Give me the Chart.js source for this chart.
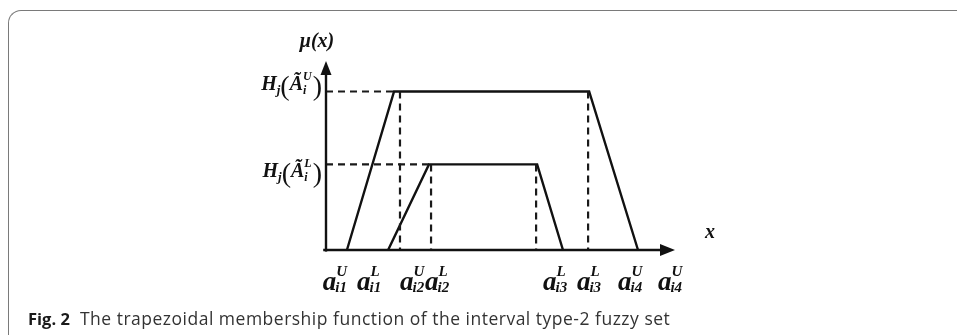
<!DOCTYPE html>
<html>
<head>
<meta charset="utf-8">
<script src="https://cdn.jsdelivr.net/npm/chart.js@4/dist/chart.umd.min.js"></script>
<style>
  html, body { margin: 0; padding: 0; background: #fff; }
  #wrap { position: relative; width: 957px; height: 335px; overflow: hidden; }
  #frame { position: absolute; left: 8px; top: 10px; width: 1000px; height: 400px;
           border-top: 1.5px solid #7a7a7a; border-left: 1.5px solid #7a7a7a;
           border-top-left-radius: 13px; box-sizing: border-box; }
  #chart { position: absolute; left: 0; top: 0; }
  #caption { position: absolute; left: 28px; top: 306px; font-family: "Open Sans", sans-serif;
             font-size: 17.5px; color: #333; white-space: pre; letter-spacing: 0.5px; }
  #caption b { color: #1a1a1a; letter-spacing: 0; font-size: 16.5px; }
</style>
</head>
<body>
<div id="wrap">
  <div id="frame"></div>
  <canvas id="chart" width="957" height="335"></canvas>
  <div id="caption"><b>Fig. 2</b>  The trapezoidal membership function of the interval type-2 fuzzy set</div>
</div>
<script>
// ---- data (x in arbitrary units 0..10, membership grade 0..1) ----
const upperX = [0.60, 1.95, 7.54, 8.94];
const upperY = [0, 1, 1, 0];
const lowerX = [1.78, 2.95, 6.05, 6.79];
const lowerY = [0, 0.54, 0.54, 0];
const upperHeight = 1;
const lowerHeight = 0.54;
const guideX = [2.12, 3.01, 6.02, 7.51];          // dashed vertical guides
const guideTop = [1, 0.54, 0.54, 1];
const xMax = 10;
const yMax = 1.1924;

// tick labels on the x axis
const xLabelSup = ['U', 'L', 'U', 'L', 'L', 'L', 'U', 'U'];
const xLabelSub = ['i1', 'i1', 'i2', 'i2', 'i3', 'i3', 'i4', 'i4'];
const xLabelAt  = [-0.09, 0.89, 2.12, 2.84, 6.22, 7.19, 8.37, 9.51];
// labels on the y axis
const yLabelSup = ['U', 'L'];
const yLabelAt  = [upperHeight, lowerHeight];

const INK = '#111';
const pts = (xs, ys) => xs.map((x, i) => ({x, y: ys[i]}));

const datasets = [];
// axes
datasets.push({ data: [{x: -0.08, y: 0}, {x: xMax - 0.3, y: 0}], borderColor: INK, borderWidth: 2.4 });
datasets.push({ data: [{x: 0, y: -0.01}, {x: 0, y: yMax - 0.05}], borderColor: INK, borderWidth: 2.4 });
// dashed horizontal guides
datasets.push({ data: [{x: 0, y: upperHeight}, {x: upperX[1], y: upperHeight}], borderColor: '#1a1a1a', borderWidth: 2.2, borderDash: [7, 5] });
datasets.push({ data: [{x: 0, y: lowerHeight}, {x: lowerX[1], y: lowerHeight}], borderColor: '#1a1a1a', borderWidth: 2.2, borderDash: [7, 5] });
// dashed vertical guides
guideX.forEach((gx, i) => datasets.push({ data: [{x: gx, y: guideTop[i]}, {x: gx, y: 0}], borderColor: '#1a1a1a', borderWidth: 2.2, borderDash: [7, 5] }));
// trapezoids
datasets.push({ data: pts(upperX, upperY), borderColor: INK, borderWidth: 2.4 });
datasets.push({ data: pts(lowerX, lowerY), borderColor: INK, borderWidth: 2.4 });
datasets.forEach(d => { d.showLine = true; d.pointRadius = 0; d.clip = false; d.fill = false; d.tension = 0; });

const MATH = '"Liberation Serif", "DejaVu Serif", serif';

const labelsPlugin = {
  id: 'labels',
  afterDraw(chart) {
    const ctx = chart.ctx;
    const xs = chart.scales.x, ys = chart.scales.y;
    ctx.save();
    ctx.fillStyle = INK;
    ctx.textBaseline = 'alphabetic';
    ctx.textAlign = 'left';
    const x0 = xs.getPixelForValue(0), y0 = ys.getPixelForValue(0);
    const xt = xs.getPixelForValue(xMax), yt = ys.getPixelForValue(yMax);
    // arrowheads
    ctx.beginPath();
    ctx.moveTo(x0, yt); ctx.lineTo(x0 - 5.5, yt + 14); ctx.lineTo(x0 + 5.5, yt + 14); ctx.closePath(); ctx.fill();
    ctx.beginPath();
    ctx.moveTo(xt, y0); ctx.lineTo(xt - 15, y0 - 6); ctx.lineTo(xt - 15, y0 + 6); ctx.closePath(); ctx.fill();

    // x-axis labels: a_{sub}^{sup}
    xLabelAt.forEach((v, i) => {
      const px = xs.getPixelForValue(v);
      const base = y0 + 40;
      ctx.font = 'bold italic 27px ' + MATH;
      ctx.fillText('a', px, base);
      const w = ctx.measureText('a').width;
      ctx.font = 'bold italic 15px ' + MATH;
      ctx.fillText(xLabelSup[i], px + w, base - 14);
      ctx.fillText(xLabelSub[i], px + w - 1, base + 2);
    });

    // y-axis labels: H_j(Ã_i^{sup}) right-aligned to the axis
    yLabelAt.forEach((v, i) => {
      const py = ys.getPixelForValue(v);
      const base = i === 0 ? py - 1 : py + 13;
      const parts = [
        {t: 'H', f: 'bold italic 20px ' + MATH, dy: 0},
        {t: 'j', f: 'bold italic 13px ' + MATH, dy: 4},
        {t: '(', f: '28px ' + MATH, dy: 5},
        {t: 'Ã', f: 'bold italic 20px ' + MATH, dy: 0},
        {t: yLabelSup[i], f: 'bold italic 12px ' + MATH, dy: -10, sub: 'i'},
        {t: ')', f: '28px ' + MATH, dy: 5}
      ];
      let total = 0;
      parts.forEach(p => { ctx.font = p.f; p.w = ctx.measureText(p.t).width + (p.sub ? 1 : 0); total += p.w; });
      let cx = x0 - 4 - total;
      parts.forEach(p => {
        ctx.font = p.f;
        ctx.fillText(p.t, cx, base + p.dy);
        if (p.sub) ctx.fillText(p.sub, cx, base + 4);
        cx += p.w;
      });
    });

    // axis names
    ctx.textAlign = 'center';
    ctx.font = 'bold italic 20px ' + MATH;
    ctx.fillText('\u03bc(x)', x0 - 9, yt - 14);
    ctx.fillText('x', xt + 35, y0 - 12);
    ctx.restore();
  }
};

new Chart(document.getElementById('chart'), {
  type: 'scatter',
  data: { datasets },
  options: {
    responsive: false,
    animation: false,
    devicePixelRatio: 1,
    layout: { padding: { left: 326, right: 282, top: 61, bottom: 85 } },
    plugins: { legend: { display: false }, tooltip: { enabled: false } },
    scales: {
      x: { type: 'linear', min: 0, max: xMax, display: false },
      y: { type: 'linear', min: 0, max: yMax, display: false }
    }
  },
  plugins: [labelsPlugin]
});
</script>
</body>
</html>
